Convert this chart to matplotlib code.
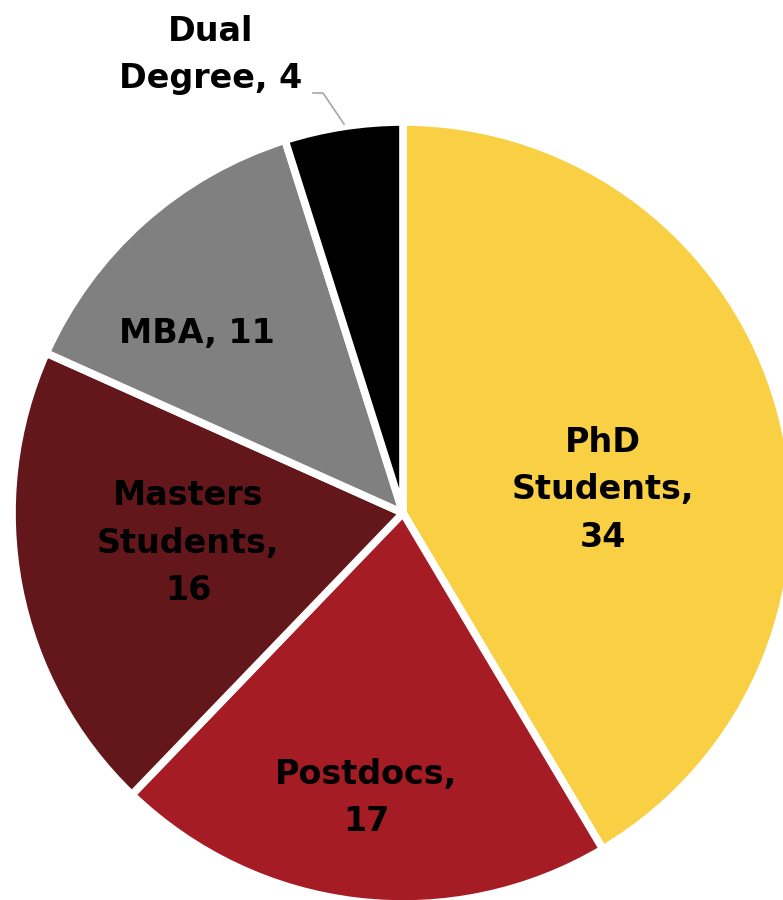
import matplotlib.pyplot as plt

# data
labels = ["PhD\nStudents,\n34", "Postdocs,\n17", "Masters\nStudents,\n16", "MBA, 11", "Dual\nDegree, 4"]
values = [34, 17, 16, 11, 4]
colors = ["#F9CF43", "#A51C24", "#63171A", "#808080", "#000000"]

W, H = 783, 900
fig = plt.figure(figsize=(W / 100, H / 100), dpi=100)
ax = fig.add_axes([0, 0, 1, 1])

cx, cy, r = 403, H - 513, 391
wedges, _ = ax.pie(values, colors=colors, startangle=90, counterclock=False,
                   center=(cx, cy), radius=r, frame=True,
                   wedgeprops=dict(edgecolor="white", linewidth=5.5, joinstyle="round"))

# label positions in pixel coords (from top-left)
label_pos = [(603, 490), (366, 798), (188, 543), (197, 333), (211, 55)]
font = dict(family="DejaVu Sans", fontweight="bold", fontsize=24, color="black",
            ha="center", va="center", linespacing=1.55)
for lab, (x, y) in zip(labels, label_pos):
    ax.text(x, H - y, lab, **font)

# leader line for the small slice
ax.plot([313, 323, 344], [H - 93, H - 93, H - 124], color="#A6A6A6", lw=1.2)

ax.set_xlim(0, W)
ax.set_ylim(0, H)
ax.set_aspect("equal")
ax.axis("off")

fig.savefig("out.png", dpi=100, facecolor="white")
